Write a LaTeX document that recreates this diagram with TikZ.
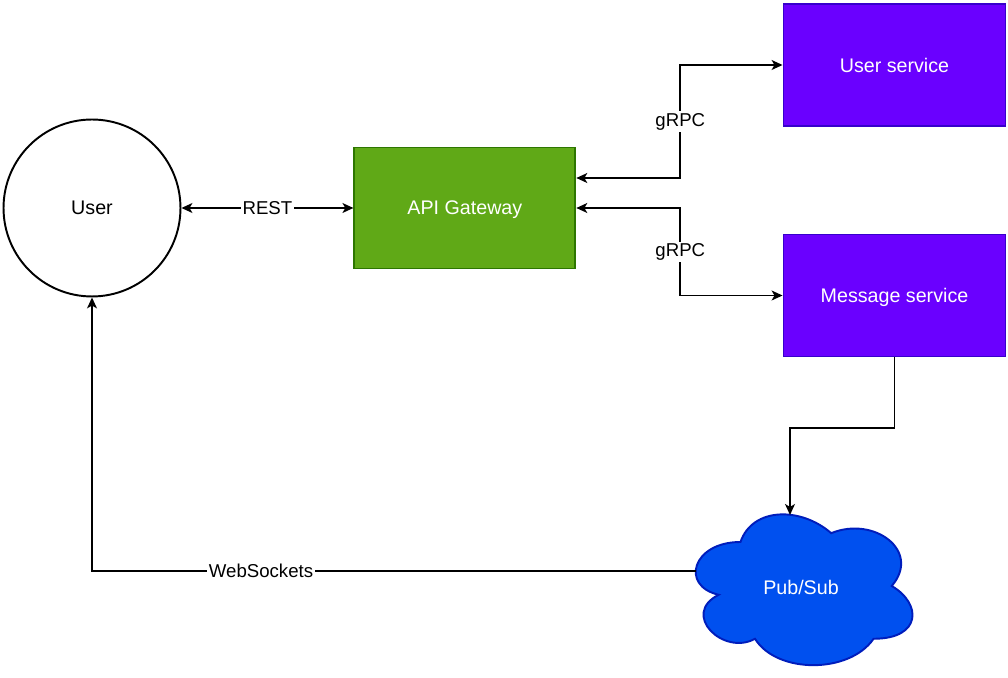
\documentclass[tikz,border=0pt]{standalone}
\usepackage{fontspec}
\setmainfont{Liberation Sans}
\usepackage{tikz}
\usetikzlibrary{shapes.geometric, arrows.meta, positioning}

\definecolor{gwfill}{HTML}{60A917}
\definecolor{gwline}{HTML}{2D7600}
\definecolor{svcfill}{HTML}{6A00FF}
\definecolor{svcline}{HTML}{3700CC}
\definecolor{psfill}{HTML}{0050EF}
\definecolor{psline}{HTML}{001DBC}

\begin{document}
\begin{tikzpicture}[x=0.02cm, y=-0.02cm, line width=1.1pt]

        % Define styles
        \tikzstyle{actor} = [circle, draw, fill=white, minimum size=3.54cm, text depth=0pt, font=\fontsize{11.2}{13}\selectfont]
        \tikzstyle{gwblock} = [rectangle, draw=gwline, fill=gwfill, text=white, minimum width=4.42cm, minimum height=2.42cm, text depth=0pt, font=\fontsize{11.2}{13}\selectfont]
        \tikzstyle{svcblock} = [rectangle, draw=svcline, fill=svcfill, text=white, minimum width=4.44cm, minimum height=2.44cm, text depth=0pt, font=\fontsize{11.2}{13}\selectfont]
        \tikzstyle{cloudtext} = [text=white, text depth=0pt, font=\fontsize{11.2}{13}\selectfont]
        \tikzstyle{line} = [draw, -{Stealth[length=6.2pt, width=5.6pt, inset=1.6pt]}]
        \tikzstyle{biline} = [draw, {Stealth[length=6.2pt, width=5.6pt, inset=1.6pt]}-{Stealth[length=6.2pt, width=5.6pt, inset=1.6pt]}]
        \tikzstyle{elabel} = [fill=white, inner sep=1pt, font=\fontsize{10.6}{12}\selectfont]

        \useasboundingbox (0,0) rectangle (1008,678);

        % Place nodes
        \node [actor] (user) at (92,208) {User};
        \node [gwblock, right=3.44cm of user] (gateway) {API Gateway};
        \node [svcblock] (usersvc) at (894.5,65) {User service};
        \node [svcblock] (msgsvc) at (894.5,295.5) {Message service};

        % Pub/Sub cloud
        \begin{scope}[shift={(680,498)}, x=4.84cm, y=-3.52cm]
            \draw [draw=psline, fill=psfill] (0.25,0.25) .. controls (0.05,0.25) and (0,0.5) .. (0.16,0.55)
                .. controls (0,0.66) and (0.18,0.9) .. (0.31,0.8)
                .. controls (0.4,1) and (0.7,1) .. (0.8,0.8)
                .. controls (1,0.8) and (1,0.6) .. (0.875,0.5)
                .. controls (1,0.3) and (0.8,0.1) .. (0.625,0.2)
                .. controls (0.5,0.05) and (0.3,0.05) .. (0.25,0.25) -- cycle;
        \end{scope}
        \node [cloudtext] (pubsub) at (801,587) {Pub/Sub};
        \coordinate (pubtop) at (790,515);
        \coordinate (publeft) at (695.6,571);

        % Draw edges
        \path [biline] (user) -- node [elabel] {REST} (gateway);
        \path [biline] ([yshift=0.6cm]gateway.east) -- ++(104,0) |- node [elabel, pos=0.25] {gRPC} (usersvc.west);
        \path [biline] (gateway.east) -- ++(104,0) |- node [elabel, pos=0.25] {gRPC} (msgsvc.west);
        \path [line] (msgsvc.south) -- ++(0,71) -| (pubtop);
        \path [line] (publeft) -| node [elabel, pos=0.36] {WebSockets} (user.south);

    \end{tikzpicture}
\end{document}
